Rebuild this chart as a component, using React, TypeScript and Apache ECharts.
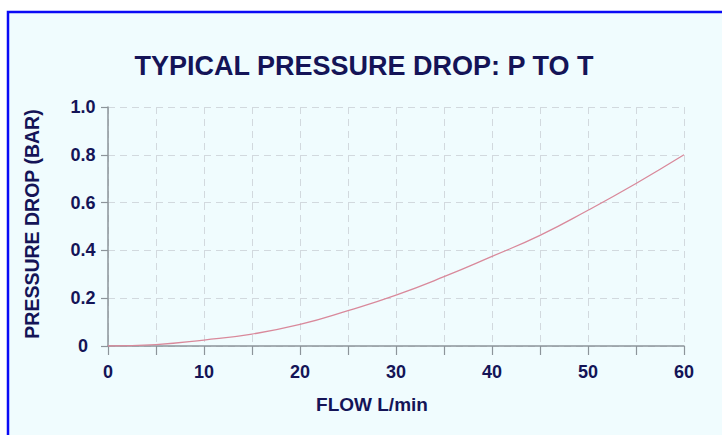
import React, { useEffect, useRef } from "react";
import * as echarts from "echarts";

const flow = [0, 5, 10, 15, 20, 25, 30, 35, 40, 45, 50, 55, 60];
const pressureDrop = [0, 0.006, 0.025, 0.05, 0.09, 0.148, 0.213, 0.29, 0.375, 0.463, 0.568, 0.68, 0.8];
const titleText = "TYPICAL PRESSURE DROP: P TO T";
const xName = "FLOW L/min";
const yName = "PRESSURE DROP (BAR)";

const NAVY = "#141457";
const FONT = "'Liberation Sans', Arial, sans-serif";

export default function App() {
  const ref = useRef<HTMLDivElement>(null);
  useEffect(() => {
    if (!ref.current) return;
    const chart = echarts.init(ref.current, undefined, { renderer: "svg" });
    chart.setOption({
      animation: false,
      backgroundColor: "#ffffff",
      graphic: [
        {
          type: "rect",
          z: -10,
          silent: true,
          shape: { x: 8, y: 12, width: 730, height: 440 },
          style: { fill: "#f0fcfe", stroke: "#0a0af5", lineWidth: 2.5 },
        },
        {
          type: "text",
          x: 364,
          y: 66,
          style: {
            text: titleText,
            fill: NAVY,
            font: `bold 27px ${FONT}`,
            textAlign: "center",
            textVerticalAlign: "middle",
          },
        },
        {
          type: "text",
          x: 372,
          y: 404,
          style: {
            text: xName,
            fill: NAVY,
            font: `bold 19px ${FONT}`,
            textAlign: "center",
            textVerticalAlign: "middle",
          },
        },
        {
          type: "text",
          x: 32,
          y: 224,
          rotation: Math.PI / 2,
          style: {
            text: yName,
            fill: NAVY,
            font: `bold 19.5px ${FONT}`,
            textAlign: "center",
            textVerticalAlign: "middle",
          },
        },
      ],
      grid: { left: 108, right: 38, top: 107, bottom: 89, containLabel: false },
      xAxis: {
        type: "value",
        min: 0,
        max: 60,
        interval: 10,
        axisLine: { show: true, lineStyle: { color: "#8c949a", width: 1.5 } },
        axisTick: { show: true, inside: false, length: 9, lineStyle: { color: "#8c949a", width: 1.2 } },
        minorTick: { show: true, splitNumber: 2, length: 9, lineStyle: { color: "#8c949a", width: 1.2 } },
        splitLine: { show: true, lineStyle: { color: "#d2d9de", type: [7, 5], width: 1 } },
        minorSplitLine: { show: true, lineStyle: { color: "#d2d9de", type: [7, 5], width: 1 } },
        axisLabel: {
          color: NAVY,
          fontFamily: FONT,
          fontWeight: "bold",
          fontSize: 18,
          margin: 17,
        },
      },
      yAxis: {
        type: "value",
        min: 0,
        max: 1,
        interval: 0.2,
        axisLine: { show: true, lineStyle: { color: "#8c949a", width: 1.5 } },
        axisTick: { show: true, inside: false, length: 7, lineStyle: { color: "#8c949a", width: 1.2 } },
        splitLine: { show: true, lineStyle: { color: "#d2d9de", type: [7, 5], width: 1 } },
        axisLabel: {
          color: NAVY,
          fontFamily: FONT,
          fontWeight: "bold",
          fontSize: 18,
          margin: 25,
          align: "center",
          formatter: (v: number) => (v === 0 ? "0" : v.toFixed(1)),
        },
      },
      series: [
        {
          type: "line",
          data: flow.map((f, i) => [f, pressureDrop[i]]),
          smooth: true,
          showSymbol: false,
          lineStyle: { color: "#d9899b", width: 1.3 },
        },
      ],
    });
    return () => chart.dispose();
  }, []);
  return (
    <div
      ref={ref}
      style={{ position: "fixed", left: 0, top: 0, width: 722, height: 435 }}
    />
  );
}
